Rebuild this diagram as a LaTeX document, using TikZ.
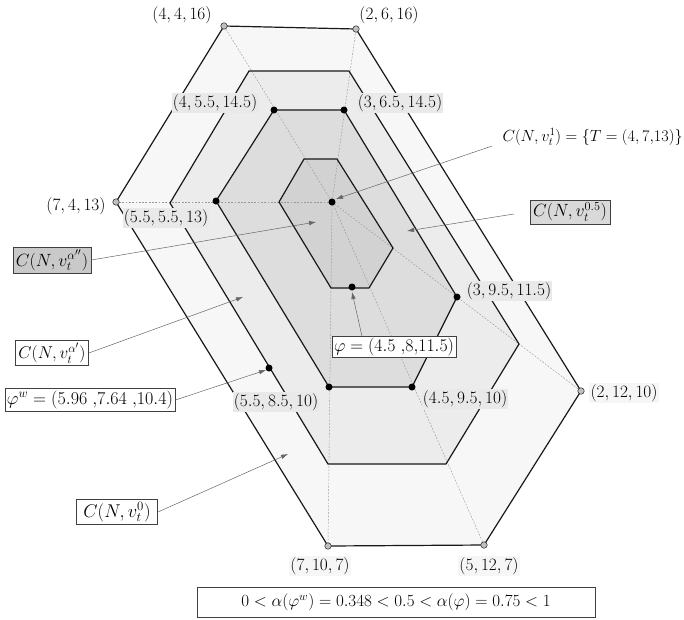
\documentclass[tikz,border=0pt]{standalone}
\usepackage{graphicx}
\usetikzlibrary{calc,arrows.meta}
\begin{document}
\begin{tikzpicture}[x=1pt,y=-1pt,
  hexline/.style={line width=1.2pt, draw=black!90, line join=miter},
  guide/.style={draw=gray!80, line width=0.45pt, dash pattern=on 1.8pt off 1.5pt},
  odot/.style={circle, fill=gray!50, draw=gray!30!black, line width=0.5pt, inner sep=0pt, minimum size=6.5pt},
  bdot/.style={circle, fill=black, inner sep=0pt, minimum size=7pt},
  coordlab/.style={fill=gray!17, inner sep=1.2pt, font=\fontsize{17.28}{19}\selectfont},
  lightlab/.style={fill=gray!7, inner sep=1.2pt, font=\fontsize{17.28}{19}\selectfont},
  plainlab/.style={inner sep=1.2pt, font=\fontsize{17.28}{19}\selectfont},
  boxlab/.style={draw=black!75, line width=0.7pt, fill=white, inner xsep=3pt, inner ysep=2.5pt, font=\fontsize{17.28}{19}\selectfont},
  pointer/.style={draw=black!60, line width=0.5pt, -{Latex[length=7pt,width=4.5pt]}},
]
\useasboundingbox (0,0) rectangle (684,619);
% centre
\coordinate (T) at (332,202);
% outer hexagon
\coordinate (O1) at (224,26);  \coordinate (O2) at (356,29);
\coordinate (O3) at (581,391); \coordinate (O4) at (484,545);
\coordinate (O5) at (328,546); \coordinate (O6) at (116,202);
% second hexagon
\coordinate (S1) at (249,71);  \coordinate (S2) at (349,71);
\coordinate (S3) at (519,344); \coordinate (S4) at (446,464);
\coordinate (S5) at (328,464); \coordinate (S6) at (170,203);
% third hexagon (0.5)
\coordinate (H1) at (274,110); \coordinate (H2) at (344,110);
\coordinate (H3) at (457,297); \coordinate (H4) at (412,387);
\coordinate (H5) at (329,387); \coordinate (H6) at (216,201);
% inner hexagon
\coordinate (I1) at (304,159); \coordinate (I2) at (337,159);
\coordinate (I3) at (393,248); \coordinate (I4) at (369,288);
\coordinate (I5) at (331,288); \coordinate (I6) at (279,202);
% special points
\coordinate (Phi) at (352,287);
\coordinate (PhiW) at (269,368);

% fills
\fill[gray!6]  (O1)--(O2)--(O3)--(O4)--(O5)--(O6)--cycle;
\fill[gray!15] (S1)--(S2)--(S3)--(S4)--(S5)--(S6)--cycle;
\fill[gray!27] (H1)--(H2)--(H3)--(H4)--(H5)--(H6)--cycle;
\fill[gray!35] (I1)--(I2)--(I3)--(I4)--(I5)--(I6)--cycle;

% guide lines
\foreach \v in {O1,O2,O3,O4,O5,O6} \draw[guide] (T) -- (\v);

% hexagon outlines
\draw[hexline] (O1)--(O2)--(O3)--(O4)--(O5)--(O6)--cycle;
\draw[hexline] (S1)--(S2)--(S3)--(S4)--(S5)--(S6)--cycle;
\draw[hexline] (H1)--(H2)--(H3)--(H4)--(H5)--(H6)--cycle;
\draw[hexline] (I1)--(I2)--(I3)--(I4)--(I5)--(I6)--cycle;

% dots
\foreach \v in {O1,O2,O3,O4,O5,O6} \node[odot] at (\v) {};
\foreach \v in {H1,H2,H3,H4,H5,H6,T,Phi,PhiW} \node[bdot] at (\v) {};

% coordinate labels
\node[plainlab] (l1) at (182,15) {$(4,4,16)$};
\node[plainlab] (l2) at (389,15) {$(2,6,16)$};
\node[coordlab] (l3) at (215,103) {$(4,5.5,14.5)$};
\node[coordlab] (l4) at (400,103) {$(3,6.5,14.5)$};
\node[plainlab] (l5) at (76,206) {$(7,4,13)$};
\node[coordlab] (l6) at (166,218) {$(5.5,5.5,13)$};
\node[coordlab] (l7) at (509,291) {$(3,9.5,11.5)$};
\node[coordlab] (l8) at (465,399) {$(4.5,9.5,10)$};
\node[coordlab] (l9) at (276,402) {$(5.5,8.5,10)$};
\node[lightlab] (l10) at (624,393) {$(2,12,10)$};
\node[lightlab] (l11) at (320,566) {$(7,10,7)$};
\node[lightlab] (l12) at (489,566) {$(5,12,7)$};

% set labels
\node[plainlab, anchor=east] (cT) at (684,137) {\scalebox{0.935}{$C(N,v_t^{1}) = \{T = (4,7{,}13)\}$}};
\node[boxlab, fill=gray!30] (b05) at (570,212) {\scalebox{1.025}{$C(N,v_t^{0.5})$}};
\node[boxlab, fill=gray!42] (bAA) at (52,260) {\scalebox{1.025}{$C(N,v_t^{\alpha''})$}};
\node[boxlab] (bA) at (52,353) {\scalebox{0.99}{$C(N,v_t^{\alpha'})$}};
\node[boxlab, inner xsep=2pt] (bW) at (90,400) {\scalebox{1.045}{$\varphi^w = (5.96\;{,}7.64\;{,}10.4)$}};
\node[boxlab, inner xsep=7pt] (b0) at (117,512) {\scalebox{1.07}{$C(N,v_t^{0})$}};
\node[boxlab, inner xsep=2pt, inner ysep=1.5pt] (bPhi) at (394,347) {\scalebox{1.03}{$\varphi = (4.5\;{,}8{,}11.5)$}};
\node[boxlab, minimum width=398pt, minimum height=30pt] (bot) at (396,602)
  {\scalebox{0.985}{$0 < \alpha(\varphi^w) = 0.348 < 0.5 < \alpha(\varphi) = 0.75 < 1$}};

% arrow targets
\coordinate (tT) at (336,199);
\coordinate (t05) at (407,231);
\coordinate (tAA) at (316,222);
\coordinate (tA) at (243,297);
\coordinate (tW) at (266,370);
\coordinate (t0) at (288,454);
\coordinate (tPhi) at (352,292);

% pointers
\draw[pointer] ($(cT.west)+(-9,9)$) -- (tT);
\draw[pointer] ($(b05.west)+(-16,2)$) -- (t05);
\draw[pointer] (bAA.east) -- (tAA);
\draw[pointer] (bA.east) -- (tA);
\draw[pointer] (bW.east) -- (tW);
\draw[pointer] (b0.east) -- (t0);
\draw[pointer] ($(bPhi.north)+(-32,0)$) -- (tPhi);
\end{tikzpicture}
\end{document}
